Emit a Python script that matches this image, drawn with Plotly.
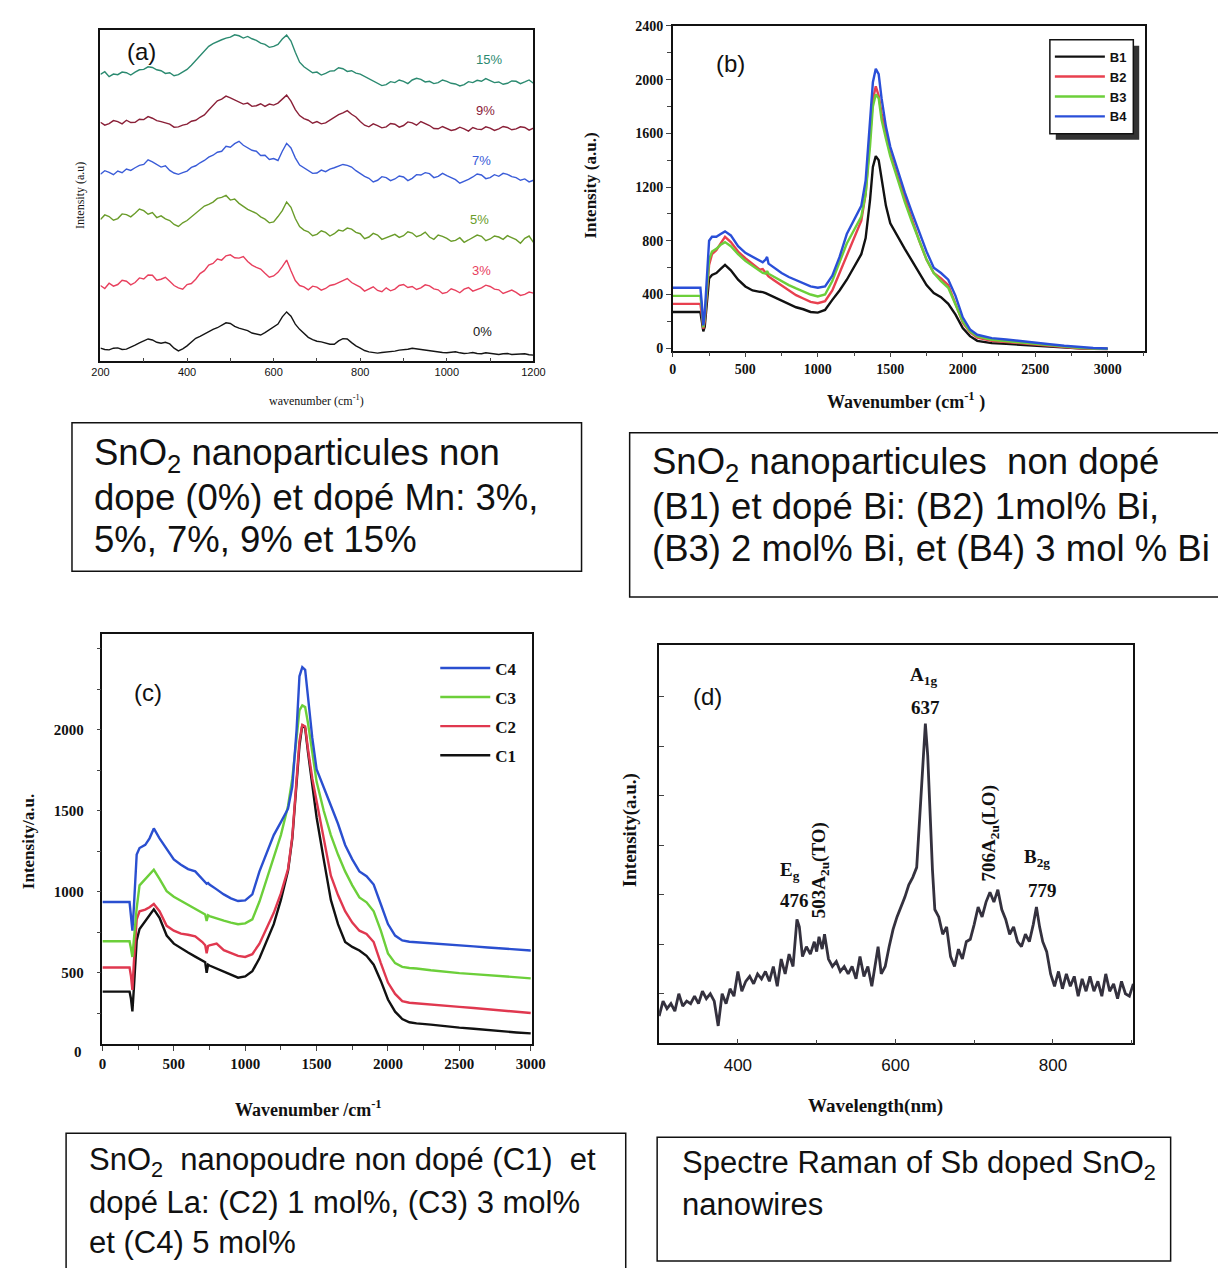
import plotly.graph_objects as go

# page is 1226x1276; browser body keeps its default 8px margin
OFF = 8
W, H = 1226 - 2 * OFF, 1276 - 2 * OFF
def PX(x): return (x - OFF) / W
def PY(y): return 1 - (y - OFF) / H

# ---------------- Panel (a): Mn-doped SnO2 ----------------
wn_a = list(range(200, 1201, 10))
a_0 = [40,36,35,40,41,36,37,42,49,56,
       61,68,65,58,55,58,53,40,32,38,
       47,58,70,76,83,92,97,102,110,117,
       115,106,101,98,93,86,83,80,87,96,
       103,113,135,150,137,113,97,84,73,66,
       61,59,55,52,52,62,69,68,57,47,
       40,33,29,26,25,27,28,30,31,34,
       35,37,40,38,36,33,32,31,29,27,
       26,28,29,26,24,25,27,24,23,26,
       25,22,21,23,24,21,22,24,23,20,
       19]
a_3 = [230,221,237,228,233,246,243,232,239,253,
       250,262,261,246,249,255,243,230,223,219,
       233,236,249,266,275,292,297,310,307,320,
       323,314,313,318,303,292,285,280,267,255,
       259,270,287,307,275,245,230,226,217,228,
       225,216,221,230,233,240,245,251,239,232,
       225,213,219,226,215,211,223,214,219,230,
       233,224,227,218,223,232,229,220,217,206,
       209,220,215,208,219,224,213,218,223,231,
       227,219,217,206,211,216,209,200,203,210,
       207]
a_5 = [430,444,439,428,433,447,445,438,449,462,
       457,446,451,436,441,432,427,415,409,420,
       427,438,447,460,471,476,483,494,497,503,
       489,492,479,470,461,455,449,438,431,420,
       423,439,457,483,467,433,409,398,393,381,
       385,396,391,380,387,398,395,404,401,391,
       387,372,377,388,383,370,375,382,385,376,
       381,393,389,378,383,392,377,370,383,379,
       373,364,367,375,361,368,375,383,379,366,
       371,380,377,370,381,374,369,358,373,380,
       361]
a_7 = [567,578,573,566,577,572,583,579,587,594,
       597,611,605,596,589,593,579,571,567,572,
       577,588,593,602,609,619,625,634,637,652,
       649,660,667,655,647,640,637,624,625,612,
       615,609,637,661,647,617,595,586,579,570,
       571,580,575,583,587,593,597,594,589,578,
       569,561,555,544,549,560,557,548,553,562,
       559,548,555,566,565,572,569,557,561,570,
       563,556,551,540,545,552,559,568,565,554,
       557,566,561,570,567,560,557,549,553,544,
       549]
a_9 = [725,716,721,730,727,720,731,724,725,734,
       733,742,737,730,727,722,719,710,711,716,
       719,728,731,740,747,762,777,790,795,804,
       799,792,787,780,783,773,775,781,773,780,
       777,783,795,807,789,763,745,736,731,722,
       727,720,723,731,739,748,753,760,749,741,
       727,716,711,720,715,708,711,721,719,710,
       715,726,723,716,727,721,715,706,705,712,
       707,700,703,710,705,698,709,704,703,711,
       707,700,705,712,709,702,705,711,709,701,
       707]
a_15 = [870,878,863,871,869,877,875,868,877,884,
        885,893,891,884,881,873,875,866,869,876,
        885,898,913,928,941,955,963,970,975,980,
        983,990,987,980,985,978,973,965,961,952,
        955,961,977,989,971,937,907,893,883,875,
        877,868,873,880,881,890,887,879,881,874,
        871,864,859,850,845,836,839,848,845,853,
        849,842,853,858,855,847,849,842,845,853,
        849,843,841,835,839,848,845,852,849,857,
        851,845,847,840,843,850,849,842,847,853,
        843]
a_names = ["0%", "3%", "5%", "7%", "9%", "15%"]
a_colors = ["#151515", "#e8405e", "#6a9c2a", "#3a5cd8", "#8a2038", "#2b8a70"]

# ---------------- Panel (b): Bi-doped SnO2 ----------------
wn_b = [0,190,200,210,220,250,270,300,330,360,400,450,500,550,600,620,640,650,660,700,750,800,850,900,950,
        1000,1050,1100,1150,1200,1250,1300,1330,1360,1380,1400,1420,1440,1470,1500,1550,1600,1650,1700,1750,
        1800,1850,1900,1950,2000,2050,2100,2200,2300,2400,2500,2600,2700,2800,2900,3000]
b_1 = [270,270,200,125,160,520,545,560,590,620,580,510,460,430,420,418,410,405,400,375,350,330,305,290,270,
       265,285,360,430,510,600,700,820,1100,1350,1430,1400,1250,1060,930,830,740,650,560,470,
       410,380,330,250,150,90,55,38,32,25,18,10,4,0,-4,-6]
b_2 = [330,330,250,145,200,620,700,730,780,830,790,720,670,630,585,590,560,545,535,505,470,430,395,370,345,
       335,350,430,560,700,830,950,1150,1550,1850,1950,1880,1750,1600,1450,1280,1120,960,800,660,
       560,520,470,330,190,120,78,55,45,35,25,15,6,0,-4,-6]
b_3 = [390,390,300,155,230,660,720,740,770,790,760,700,650,610,570,560,555,575,555,530,500,470,445,420,400,
       385,400,500,640,780,880,980,1150,1500,1800,1890,1860,1700,1560,1430,1260,1090,940,800,660,
       560,500,450,330,200,125,88,62,52,42,30,20,10,3,-2,-5]
b_4 = [450,450,330,170,260,800,830,830,850,870,840,760,710,680,650,640,660,680,630,600,560,530,505,480,460,
       450,460,540,680,850,960,1060,1250,1650,1980,2080,2040,1860,1650,1500,1330,1160,1010,860,720,
       600,560,510,390,230,140,100,75,65,55,42,30,18,8,2,-2]
b_names = ["B1", "B2", "B3", "B4"]
b_colors = ["#111111", "#e8404f", "#6ccf3a", "#2a4fd8"]

# ---------------- Panel (c): La-doped SnO2 ----------------
wn_c = [0,190,200,210,220,240,260,300,330,360,400,450,500,550,600,650,700,720,730,740,750,800,850,900,950,
        1000,1050,1100,1150,1200,1250,1300,1330,1360,1380,1400,1420,1440,1470,1500,1550,1600,1650,1700,1750,
        1800,1850,1900,1950,2000,2050,2100,2150,2200,2300,2400,2500,2600,2700,2800,2900,3000]
c_1 = [384,384,340,262,400,700,770,820,860,892,840,730,680,650,625,600,575,565,500,550,545,525,505,490,470,
       478,510,590,690,800,950,1130,1330,1650,1900,2030,2010,1860,1650,1460,1200,950,800,690,660,
       638,605,550,450,335,260,215,195,188,180,170,162,155,146,138,132,126]
c_2 = [533,533,480,394,560,830,880,890,905,925,880,790,760,742,735,725,690,670,620,665,670,680,640,620,605,
       598,615,680,770,870,990,1140,1340,1680,1930,2030,2020,1880,1700,1560,1330,1100,980,880,810,
       760,740,690,560,440,370,325,315,312,305,298,290,283,275,266,258,252]
c_3 = [695,695,650,598,700,900,1040,1080,1110,1136,1080,1004,970,945,925,900,870,860,820,855,850,835,822,810,800,
       805,830,940,1080,1210,1350,1530,1700,1950,2120,2150,2140,2040,1850,1680,1500,1350,1230,1126,1040,
       965,935,880,760,620,560,537,530,527,516,506,498,492,485,478,472,466]
c_4 = [937,937,850,760,900,1230,1270,1290,1330,1391,1330,1269,1200,1167,1140,1126,1080,1060,1050,1055,1045,1015,984,960,943,
       947,984,1126,1240,1350,1430,1513,1650,2000,2330,2387,2370,2200,1950,1757,1640,1533,1420,1289,1200,
       1126,1096,1045,923,801,730,700,692,689,684,679,672,663,656,650,644,638]
c_names = ["C1", "C2", "C3", "C4"]
c_colors = ["#111111", "#e0384f", "#6ccf3a", "#2a4fd0"]

# ---------------- Panel (d): Sb-doped SnO2 nanowires ----------------
wl_d = [300,305,310,315,320,325,330,335,340,345,350,355,360,365,370,375,380,385,390,395,
        400,405,410,415,420,425,430,435,440,445,450,455,460,465,470,475,478,482,487,492,
        497,500,503,507,510,515,520,525,530,535,540,545,550,555,560,565,570,575,578,582,
        587,592,597,602,607,612,617,622,627,630,633,636,638,641,644,647,650,655,660,665,
        670,675,680,685,690,695,700,705,710,715,720,725,730,735,740,745,750,755,760,765,
        770,775,779,783,787,792,797,802,807,812,817,822,827,832,837,842,847,852,857,862,
        867,872,877,882,887,892,897,902]
d_int = [0.55,0.85,0.70,0.80,0.65,1.00,0.75,0.85,0.80,0.95,0.80,1.05,0.90,1.00,0.85,0.35,1.00,0.80,1.10,0.95,
         1.45,1.05,1.25,1.35,1.20,1.40,1.30,1.45,1.25,1.55,1.15,1.70,1.40,1.80,1.55,2.50,2.35,1.75,1.95,1.80,
         2.05,1.85,2.15,1.90,2.20,1.70,1.55,1.65,1.45,1.55,1.40,1.55,1.30,1.75,1.35,1.55,1.15,1.65,1.95,1.40,
         1.55,1.95,2.30,2.55,2.75,2.95,3.20,3.35,3.55,4.30,5.20,5.90,6.45,5.80,4.60,3.50,2.70,2.55,2.20,2.35,
         1.75,1.55,1.90,1.70,2.05,2.10,2.40,2.75,2.55,2.85,3.05,2.85,3.10,2.70,2.50,2.20,2.35,2.05,1.95,2.20,
         2.05,2.40,2.75,2.35,2.05,1.85,1.40,1.15,1.45,1.10,1.40,1.15,1.35,0.95,1.30,1.05,1.35,1.05,1.25,0.95,
         1.40,1.05,1.20,0.90,1.25,1.00,0.95,1.20]

fig = go.Figure()

for name, vals, col in zip(a_names, [a_0, a_3, a_5, a_7, a_9, a_15], a_colors):
    fig.add_trace(go.Scatter(x=wn_a, y=vals, mode="lines", name=name, showlegend=False,
                             line=dict(color=col, width=1.4), xaxis="x", yaxis="y"))
for name, vals, col in zip(b_names, [b_1, b_2, b_3, b_4], b_colors):
    fig.add_trace(go.Scatter(x=wn_b, y=vals, mode="lines", name=name, legend="legend",
                             line=dict(color=col, width=2.4), xaxis="x2", yaxis="y2"))
for rank, (name, vals, col) in enumerate(zip(c_names, [c_1, c_2, c_3, c_4], c_colors)):
    fig.add_trace(go.Scatter(x=wn_c, y=vals, mode="lines", name=name, legend="legend2",
                             legendgroup=name, legendrank=1000 - rank,
                             line=dict(color=col, width=2.4), xaxis="x3", yaxis="y3"))
fig.add_trace(go.Scatter(x=wl_d, y=d_int, mode="lines", name="Sb:SnO2", showlegend=False,
                         line=dict(color="#34313e", width=2.8), xaxis="x4", yaxis="y4"))

sans = "Liberation Sans, Arial, sans-serif"
serif = "Liberation Serif, Times New Roman, serif"
axbase = dict(showline=True, mirror=True, linecolor="#111", linewidth=1.5,
              showgrid=False, zeroline=False)

layout = dict(
    width=W, height=H, margin=dict(l=0, r=0, t=0, b=0),
    paper_bgcolor="white", plot_bgcolor="white",
    # (a)
    xaxis=dict(axbase, domain=[PX(93), PX(534)], anchor="y", range=[200, 1200],
               tickvals=[200, 400, 600, 800, 1000, 1200], ticks="inside", ticklen=4,
               minor=dict(dtick=100, tick0=200, ticks="inside", ticklen=4),
               tickfont=dict(family=sans, size=11, color="#111")),
    yaxis=dict(axbase, domain=[PY(358), PY(23)], anchor="x", range=[0, 1005],
               showticklabels=False, ticks=""),
    # (b)
    xaxis2=dict(axbase, domain=[PX(676), PX(1157)], anchor="y2", range=[0, 3258],
                tickvals=[0, 500, 1000, 1500, 2000, 2500, 3000], ticks="outside", ticklen=5,
                minor=dict(dtick=250, tick0=0, ticks="outside", ticklen=4),
                tickfont=dict(family=serif, size=14, color="#111", weight="bold")),
    yaxis2=dict(axbase, domain=[PY(347), PY(19)], anchor="x2", range=[-17, 2400],
                tickvals=[0, 400, 800, 1200, 1600, 2000, 2400], ticks="outside", ticklen=5,
                minor=dict(dtick=200, tick0=0, ticks="outside", ticklen=4),
                tickfont=dict(family=serif, size=14, color="#111", weight="bold")),
    # (c)
    xaxis3=dict(axbase, domain=[PX(95), PX(533)], anchor="y3", range=[0, 3012],
                tickvals=[0, 500, 1000, 1500, 2000, 2500, 3000], ticks="outside", ticklen=5,
                minor=dict(dtick=250, tick0=0, ticks="outside", ticklen=4),
                tickfont=dict(family=serif, size=15, color="#111", weight="bold")),
    yaxis3=dict(axbase, domain=[PY(1048), PY(633)], anchor="x3", range=[59, 2594],
                tickvals=[500, 1000, 1500, 2000], ticks="outside", ticklen=4,
                ticklabelstandoff=10,
                minor=dict(dtick=250, tick0=0, ticks="outside", ticklen=4),
                tickfont=dict(family=serif, size=15, color="#111", weight="bold")),
    # (d)
    xaxis4=dict(axbase, domain=[PX(662), PX(1145)], anchor="y4", range=[300, 902],
                tickvals=[400, 600, 800], ticks="inside", ticklen=5,
                ticklabelstandoff=6,
                minor=dict(dtick=100, tick0=300, ticks="inside", ticklen=4),
                tickfont=dict(family=sans, size=17, color="#111")),
    yaxis4=dict(axbase, domain=[PY(1047), PY(645)], anchor="x4", range=[0, 8.03],
                showticklabels=False, tickvals=[1, 2, 3, 4, 5, 6, 7], ticks="inside", ticklen=5),
    legend=dict(x=PX(1060), y=PY(35), xanchor="left", yanchor="top",
                bgcolor="rgba(0,0,0,0)", borderwidth=0, itemwidth=50,
                font=dict(family=sans, size=13, color="#111", weight="bold"),
                tracegroupgap=0),
    legend2=dict(x=PX(434), y=PY(650), xanchor="left", yanchor="top",
                 bgcolor="rgba(0,0,0,0)", borderwidth=0, traceorder="grouped",
                 itemwidth=50,
                 font=dict(family=serif, size=17, color="#111", weight="bold"),
                 tracegroupgap=4),
)
fig.update_layout(**layout)

ann = []
def A(x, y, text, size, family=sans, color="#111", bold=False, angle=0, xa="center", ya="middle"):
    font = dict(family=family, size=size, color=color)
    if bold:
        font["weight"] = "bold"
    ann.append(dict(x=PX(x), y=PY(y), xref="paper", yref="paper", text=text, showarrow=False,
                    xanchor=xa, yanchor=ya, textangle=angle, font=font))

# panel letters
A(135, 45, "(a)", 24)
A(735, 57, "(b)", 24)
A(141, 693, "(c)", 24)
A(711, 697, "(d)", 24)

# (a) curve labels
lab_pos = {"15%": (489, 53), "9%": (485, 105), "7%": (481, 155), "5%": (479, 215), "3%": (481, 266), "0%": (482, 328)}
for name, col in zip(a_names, a_colors):
    x, y = lab_pos[name]
    A(x, y, name, 13, color=col)

# axis titles
A(313, 398, "wavenumber (cm<sup>-1</sup>)", 12, family=serif)
A(72, 190, "Intensity (a.u)", 12, family=serif, angle=-90)
A(913, 398, "Wavenumber (cm<sup>-1</sup> )", 18, family=serif, bold=True)
A(592, 180, "Intensity (a.u.)", 17, family=serif, bold=True, angle=-90)
A(305, 1113, "Wavenumber /cm<sup>-1</sup>", 18, family=serif, bold=True)
A(20, 843, "Intensity/a.u.", 17, family=serif, bold=True, angle=-90)
A(70, 1056, "0", 15, family=serif, bold=True)
A(882, 1110, "Wavelength(nm)", 19, family=serif, bold=True)
A(633, 832, "Intensity(a.u.)", 19, family=serif, bold=True, angle=-90)

# (d) peak labels
A(795, 873, "E<sub>g</sub>", 19, family=serif, bold=True)
A(800, 903, "476", 19, family=serif, bold=True)
A(826, 872, "503A<sub>2u</sub>(TO)", 19, family=serif, bold=True, angle=-90)
A(931, 676, "A<sub>1g</sub>", 19, family=serif, bold=True)
A(933, 708, "637", 19, family=serif, bold=True)
A(1000, 835, "706A<sub>2u</sub>(LO)", 19, family=serif, bold=True, angle=-90)
A(1047, 860, "B<sub>2g</sub>", 19, family=serif, bold=True)
A(1052, 893, "779", 19, family=serif, bold=True)

# caption boxes text
def lines(x, ys, texts, size):
    for y, t in zip(ys, texts):
        A(x, y, t, size, xa="left")

lines(84, [453, 496, 538], ["SnO<sub>2</sub> nanoparticules non",
                            "dope (0%) et dopé Mn: 3%,",
                            "5%, 7%, 9% et 15%"], 36.5)
lines(653, [462, 505, 547], ["SnO<sub>2</sub> nanoparticules  non dopé",
                             "(B1) et dopé Bi: (B2) 1mol% Bi,",
                             "(B3) 2 mol% Bi, et (B4) 3 mol % Bi"], 36.5)
lines(79, [1167, 1208, 1248], ["SnO<sub>2</sub>  nanopoudre non dopé (C1)  et",
                               "dopé La: (C2) 1 mol%, (C3) 3 mol%",
                               "et (C4) 5 mol%"], 31)
lines(683, [1170, 1210], ["Spectre Raman of Sb doped SnO<sub>2</sub>",
                          "nanowires"], 31)

fig.update_layout(annotations=ann)

shapes = []
def R(x0, y0, x1, y1, fill=None, lw=1.5):
    shapes.append(dict(type="rect", xref="paper", yref="paper",
                       x0=PX(x0), y0=PY(y1), x1=PX(x1), y1=PY(y0),
                       line=dict(color="#111", width=lw),
                       fillcolor=fill if fill else "rgba(0,0,0,0)"))
R(64, 420, 583, 570)
R(632, 430, 1240, 596)
R(58, 1138, 628, 1290)
R(660, 1142, 1183, 1267)
# legend frame with drop shadow for (b)
R(1066, 39, 1151, 134, fill="#333333", lw=0)
R(1060, 33, 1145, 128, fill="white", lw=1.5)
fig.update_layout(shapes=shapes)

fig.write_html("out.html", config={"displayModeBar": False})
